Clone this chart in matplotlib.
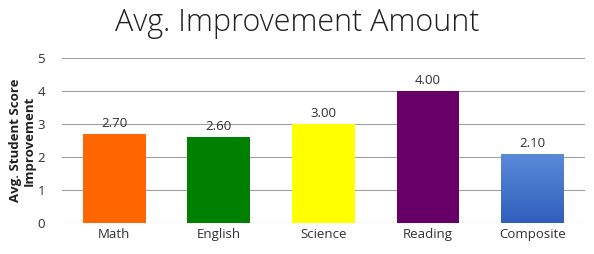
import numpy as np
import matplotlib
matplotlib.use('Agg')
import matplotlib.pyplot as plt

# Data
subjects = ['Math', 'English', 'Science', 'Reading', 'Composite']
scores = [2.70, 2.60, 3.00, 4.00, 2.10]
colors = ['#ff6600', '#008000', '#ffff00', '#660066', '#4472c4']

plt.rcParams['font.family'] = ['Open Sans', 'DejaVu Sans']

fig = plt.figure(figsize=(5.94, 2.54), dpi=100)
ax = fig.add_axes([0.104, 0.122, 0.881, 0.65])

x = np.arange(len(subjects))
bars = ax.bar(x, scores, width=0.6, color=colors, zorder=2)

# gradient fill for the composite bar
last = bars[-1]
grad = np.linspace(0, 1, 100).reshape(-1, 1)
cmap = matplotlib.colors.LinearSegmentedColormap.from_list('g', ['#2f5fbd', '#5b8bd8'])
bx, by = last.get_x(), last.get_y()
img = ax.imshow(grad, cmap=cmap, origin='lower', aspect='auto', zorder=3,
                extent=[bx, bx + last.get_width(), by, by + last.get_height()])
img.set_clip_path(last)

for xi, s in zip(x, scores):
    ax.text(xi, s + 0.12, f'{s:.2f}', ha='center', va='bottom', fontsize=9.5, color='#303030')

ax.set_xlim(-0.5, len(subjects) - 0.5)
ax.set_ylim(0, 5)
ax.set_yticks(range(6))
ax.set_xticks(x)
ax.set_xticklabels(subjects)
ax.tick_params(length=0, labelsize=9.5, colors='#303030')
ax.tick_params(axis='y', pad=12)
ax.grid(axis='y', color='#a0a0a0', linewidth=0.8, zorder=0)
for sp in ax.spines.values():
    sp.set_visible(False)
ax.set_ylabel('Avg. Student Score\nImprovement', fontsize=9.5, fontweight='bold',
              color='#202020', linespacing=1.1, labelpad=1)
fig.text(0.5, 0.845, 'Avg. Improvement Amount', ha='center', va='bottom',
         fontsize=22, fontweight='light', color='#202020')

fig.savefig('out.png', dpi=100)
